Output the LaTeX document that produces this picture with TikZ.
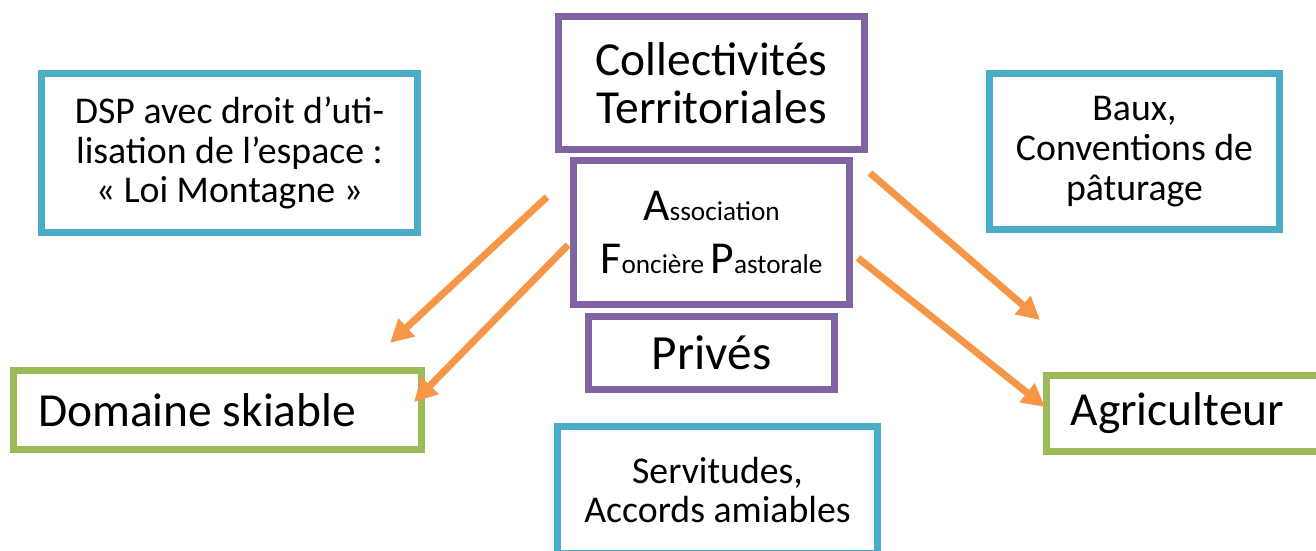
\documentclass[tikz,border=0pt]{standalone}
\usepackage{fontspec}
\setmainfont{Carlito}
\usepackage{xcolor}
\usetikzlibrary{arrows.meta,positioning,calc}
\definecolor{acteur}{RGB}{128,100,162}
\definecolor{cadre}{RGB}{75,172,198}
\definecolor{usage}{RGB}{155,187,89}
\definecolor{lien}{RGB}{247,150,70}
\newcommand{\initiale}[2]{{\fontsize{26}{30}\selectfont #1}{\fontsize{15.5}{30}\selectfont #2}}

\begin{document}
\begin{tikzpicture}[
    x=0.02cm, y=0.02cm,
    node distance=0.08cm,
    entite/.style={rectangle, draw=acteur, line width=0.14cm, align=center, inner sep=0pt},
    contrat/.style={rectangle, draw=cadre, line width=0.14cm, align=center, inner sep=0pt, font=\fontsize{21.5}{22.6}\selectfont},
    usager/.style={rectangle, draw=usage, line width=0.14cm, align=flush left, inner ysep=0pt, inner xsep=0.48cm, font=\fontsize{27}{28}\selectfont},
    fleche/.style={draw=lien, line width=0.14cm, -{Triangle[length=0.46cm,width=0.46cm]}}
]
    \useasboundingbox (0,0) rectangle (1316,-551);
    % acteurs au centre
    \node[entite, minimum width=6.12cm, minimum height=2.66cm, font=\fontsize{27}{27.2}\selectfont] (coll) at (711.5,-83) {Collectivités\\Territoriales};
    \node[entite, below=of coll, minimum width=5.52cm, minimum height=2.88cm, font=\fontsize{15.5}{30}\selectfont] (afp) {\initiale{A}{ssociation}\\\initiale{F}{oncière} \initiale{P}{astorale}};
    \node[entite, below=0.1cm of afp, minimum width=4.94cm, minimum height=1.46cm, font=\fontsize{28}{28}\selectfont] (prive) {Privés};

    % cadres juridiques
    \node[contrat, minimum width=7.52cm, minimum height=3.18cm] (dsp) at (229.5,-153) {DSP avec droit d’uti-\\lisation de l’espace :\\« Loi Montagne »};
    \node[contrat, minimum width=5.80cm, minimum height=3.12cm] (baux) at (1134.5,-151.5) {Baux,\\Conventions de\\pâturage};
    \node[contrat, minimum width=6.40cm, minimum height=2.54cm] (serv) at (717.5,-490) {Servitudes,\\Accords amiables};

    % usagers
    \node[usager, text width=7.18cm, minimum width=8.16cm, minimum height=1.58cm] (dom) at (217.5,-410) {Domaine skiable};
    \node[usager, text width=4.84cm, minimum width=5.80cm, minimum height=1.52cm] (agri) at (1191.5,-413.5) {Agriculteur};

    \draw[fleche] ($(afp.west)+(-23,35.5)$) -- ($(dom.north east)+(-35,24)$);
    \draw[fleche] ($(afp.west)+(-2,-12.5)$) -- ($(dom.east)+(-11,8)$);
    \draw[fleche] ($(afp.north east)+(17,-16)$) -- ($(agri.north west)+(-3,52)$);
    \draw[fleche] ($(afp.east)+(5,-25.5)$) -- ($(agri.west)+(2,6.5)$);
\end{tikzpicture}
\end{document}
